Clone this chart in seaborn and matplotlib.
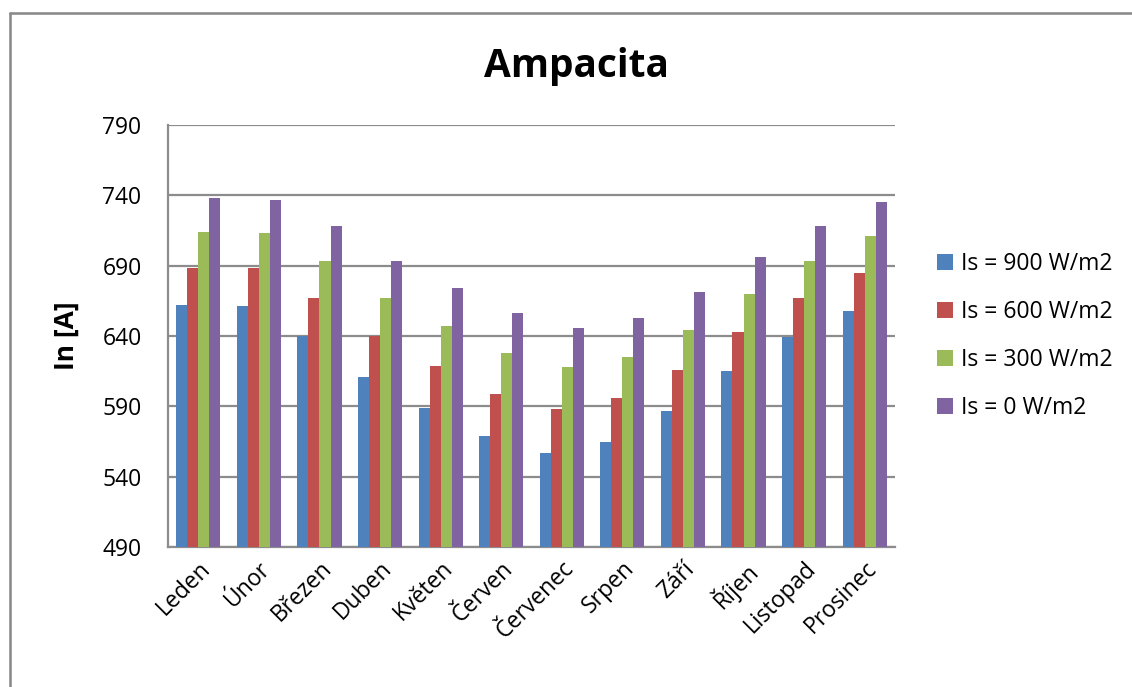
import matplotlib
matplotlib.use("Agg")
import matplotlib.pyplot as plt
from matplotlib.lines import Line2D
import pandas as pd
import seaborn as sns

months = ["Leden", "Únor", "Březen", "Duben", "Květen", "Červen",
          "Červenec", "Srpen", "Září", "Říjen", "Listopad", "Prosinec"]
series_names = ["Is = 900 W/m2", "Is = 600 W/m2", "Is = 300 W/m2", "Is = 0 W/m2"]
is_900 = [662, 661, 640, 611, 589, 569, 557, 565, 587, 615, 639, 658]
is_600 = [688, 688, 667, 640, 619, 599, 588, 596, 616, 643, 667, 685]
is_300 = [714, 713, 693, 667, 647, 628, 618, 625, 644, 670, 693, 711]
is_0 = [738, 737, 718, 693, 674, 656, 646, 653, 671, 696, 718, 735]
colors = ["#4F81BD", "#C0504D", "#9BBB59", "#8064A2"]
y_ticks = [490, 540, 590, 640, 690, 740, 790]

df = pd.DataFrame({"Měsíc": months,
                   series_names[0]: is_900,
                   series_names[1]: is_600,
                   series_names[2]: is_300,
                   series_names[3]: is_0})
long = df.melt(id_vars="Měsíc", var_name="Série", value_name="In")

sns.set_theme(style="white")
plt.rcParams["font.family"] = ["Open Sans", "DejaVu Sans"]
plt.rcParams["text.color"] = "black"

fig = plt.figure(figsize=(11.32, 6.87), dpi=100)
ax = fig.add_axes([168 / 1132, 1 - 547 / 687, (895 - 168) / 1132, (547 - 125) / 687])

sns.barplot(data=long, x="Měsíc", y="In", hue="Série", hue_order=series_names,
            order=months, palette=colors, saturation=1, width=0.73, gap=0,
            linewidth=0, edgecolor="none", errorbar=None, ax=ax, zorder=3)

grid_color = "#8C8C8C"
ax.set_ylim(490, 790)
ax.set_yticks(y_ticks)
ax.set_xlim(-0.5, len(months) - 0.5)
ax.yaxis.grid(True, color=grid_color, linewidth=1.6, zorder=0)
ax.set_axisbelow(True)
for side in ["top", "right"]:
    ax.spines[side].set_visible(False)
for side in ["left", "bottom"]:
    ax.spines[side].set_color(grid_color)
    ax.spines[side].set_linewidth(1.6)
ax.tick_params(axis="both", length=0, labelsize=16.5, colors="black")
ax.tick_params(axis="y", pad=19)
ax.tick_params(axis="x", pad=7)
for lbl in ax.get_xticklabels():
    lbl.set_rotation(45)
    lbl.set_ha("right")
    lbl.set_rotation_mode("anchor")

ax.set_xlabel("")
ax.set_ylabel("In [A]", fontsize=19, fontweight="bold", color="black", labelpad=16)

fig.text(576 / 1132, 1 - 66 / 687, "Ampacita", ha="center", va="center",
         fontsize=28, fontweight="bold", color="black")

leg = ax.legend(loc="center left", bbox_to_anchor=(1.03, 0.5), frameon=False,
                fontsize=16.5, handlelength=0.7, handleheight=0.7,
                handletextpad=0.35, labelspacing=1.05)
for t in leg.get_texts():
    t.set_color("black")

# chart frame: left and top edges
fig.add_artist(Line2D([9.5 / 1132, 9.5 / 1132], [0, 1 - 13 / 687],
                      transform=fig.transFigure, color="#878787", linewidth=1.8))
fig.add_artist(Line2D([9.5 / 1132, 1], [1 - 13 / 687, 1 - 13 / 687],
                      transform=fig.transFigure, color="#878787", linewidth=1.8))

fig.savefig("out.png", dpi=100, facecolor="white")
